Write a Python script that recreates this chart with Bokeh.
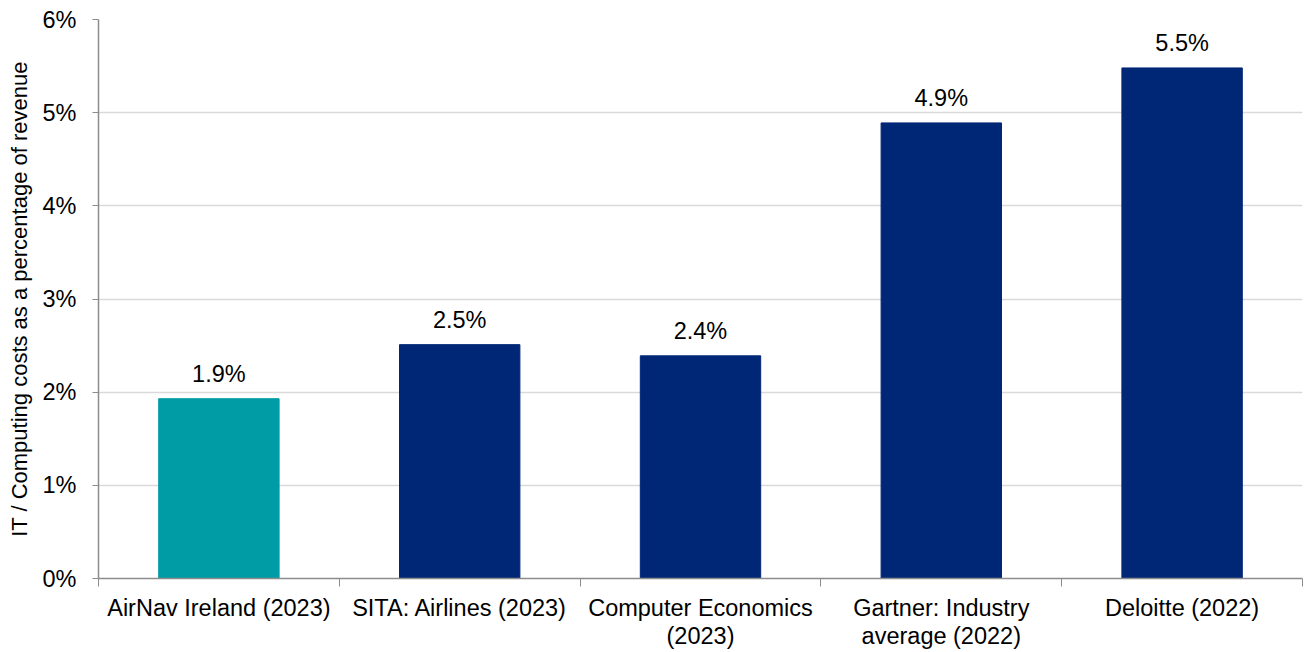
from bokeh.plotting import figure
from bokeh.models import ColumnDataSource, FixedTicker, PrintfTickFormatter, LabelSet, Range1d
from bokeh.core.properties import value
from bokeh.embed import file_html
from bokeh.resources import INLINE

categories = ["AirNav Ireland (2023)", "SITA: Airlines (2023)", "Computer Economics\n(2023)",
              "Gartner: Industry\naverage (2022)", "Deloitte (2022)"]
values = [1.93, 2.51, 2.39, 4.89, 5.48]
labels = ["1.9%", "2.5%", "2.4%", "4.9%", "5.5%"]
colors = ["#009CA6", "#002776", "#002776", "#002776", "#002776"]
y_ticks = [0, 1, 2, 3, 4, 5, 6]

FONT = "Liberation Sans"
n = len(categories)
xs = [i + 0.5 for i in range(n)]
src = ColumnDataSource(dict(x=xs, top=values, label=labels, color=colors))

p = figure(width=1304, height=652, output_backend="svg", toolbar_location=None,
           x_range=Range1d(0, n), y_range=Range1d(0, 6),
           min_border_left=98, min_border_right=2, min_border_top=19, min_border_bottom=74)
p.outline_line_color = None
p.background_fill_color = "white"

p.vbar(x="x", top="top", width=0.5, color="color", source=src)

lbl = LabelSet(x="x", y="top", text="label", source=src, text_align="center",
               text_baseline="alphabetic", y_offset=17, text_font=value(FONT),
               text_font_size=value("23.5px"), text_color="#000000")
p.add_layout(lbl)

# x axis
p.xaxis.ticker = FixedTicker(ticks=xs, minor_ticks=list(range(n + 1)))
p.xaxis.major_label_overrides = {x: c for x, c in zip(xs, categories)}
p.xaxis.major_tick_line_color = None
p.xaxis.major_tick_out = 0
p.xaxis.major_tick_in = 0
p.xaxis.minor_tick_line_color = "#8c8c8c"
p.xaxis.minor_tick_out = 8
p.xaxis.minor_tick_in = 0
p.xaxis.axis_line_color = "#8c8c8c"
p.xaxis.axis_line_width = 1.5
p.xaxis.major_label_text_font = FONT
p.xaxis.major_label_text_font_size = "23.5px"
p.xaxis.major_label_text_line_height = 1.1
p.xaxis.major_label_text_color = "#000000"
p.xaxis.major_label_standoff = 8
p.xaxis.major_label_orientation = "horizontal"

# y axis
p.yaxis.ticker = FixedTicker(ticks=y_ticks, minor_ticks=[])
p.yaxis.formatter = PrintfTickFormatter(format="%d%%")
p.yaxis.axis_line_color = "#8c8c8c"
p.yaxis.axis_line_width = 1.5
p.yaxis.major_tick_line_color = "#8c8c8c"
p.yaxis.major_tick_out = 6
p.yaxis.major_tick_in = 0
p.yaxis.major_label_text_font = FONT
p.yaxis.major_label_text_font_size = "23.5px"
p.yaxis.major_label_text_color = "#000000"
p.yaxis.major_label_standoff = 16
p.yaxis.axis_label = "IT / Computing costs as a percentage of revenue"
p.yaxis.axis_label_text_font = FONT
p.yaxis.axis_label_text_font_size = "22px"
p.yaxis.axis_label_text_font_style = "normal"
p.yaxis.axis_label_text_color = "#000000"
p.yaxis.axis_label_standoff = 8

p.xgrid.grid_line_color = None
p.ygrid.grid_line_color = "#d9d9d9"
p.ygrid.grid_line_width = 1.5

open("out.html", "w").write(file_html(p, INLINE))
